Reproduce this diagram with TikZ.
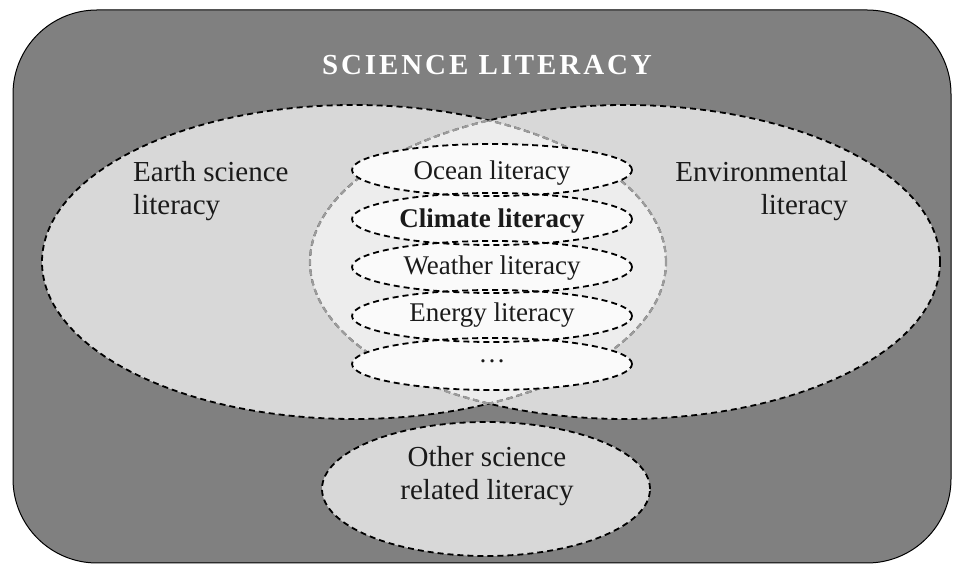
\documentclass[tikz,border=0pt]{standalone}
\usepackage{fontspec}
\setmainfont{Liberation Serif}
\newfontfamily\titlefont[LetterSpace=10]{Liberation Serif}
\definecolor{outergray}{HTML}{808080}
\definecolor{lightfill}{HTML}{D8D8D8}
\definecolor{lensfill}{HTML}{EDEDED}
\definecolor{smallfill}{HTML}{FAFAFA}
\definecolor{arcgray}{HTML}{9C9C9C}
\definecolor{ink}{HTML}{1A1A1A}
\newcommand{\ellL}{(354pt,303pt) ellipse [x radius=312pt, y radius=157pt]}
\newcommand{\ellR}{(625pt,303pt) ellipse [x radius=315pt, y radius=157pt]}
\newcommand{\ellB}{(486pt,76pt) ellipse [x radius=164pt, y radius=67pt]}
\begin{document}
\begin{tikzpicture}[x=1pt,y=1pt,
  dsh/.style={dash pattern=on 6pt off 4pt, line width=1.8pt},
  lbl/.style={font=\fontsize{29}{33}\selectfont, inner sep=0pt, text=ink},
  inlbl/.style={font=\fontsize{27}{31}\selectfont, inner sep=0pt, anchor=base, text=ink},
  smallell/.style={x radius=140pt, y radius=26pt}
 ]
\useasboundingbox (0,0) rectangle (954,565);
% outer frame
\draw[fill=outergray, line width=1pt, rounded corners=84pt] (13,2) rectangle (951,555);
% big ellipses
\fill[lightfill] \ellL;
\fill[lightfill] \ellR;
\fill[lightfill] \ellB;
\begin{scope}
  \clip \ellL;
  \fill[lensfill] \ellR;
\end{scope}
\draw[dsh, black] \ellL;
\draw[dsh, black] \ellR;
\begin{scope}
  \clip \ellR;
  \draw[dsh, arcgray, line width=2.2pt] \ellL;
\end{scope}
\begin{scope}
  \clip \ellL;
  \draw[dsh, arcgray, line width=2.2pt] \ellR;
\end{scope}
% small ellipses
\foreach \cy in {395,346,298,249,201} {
  \fill[smallfill] (492,\cy) ellipse [smallell];
}
\foreach \cy in {395,346,298,249,201} {
  \draw[dsh, black] (492,\cy) ellipse [smallell];
}
\draw[dsh, black] \ellB;
% texts
\node[font={\titlefont\fontsize{29}{33}\bfseries\selectfont}, text=white, anchor=base, inner sep=0pt] (title) at (487,490) {SCIENCE LITERACY};
\node[lbl, anchor=base west] (earth1) at (133,383) {Earth science};
\node[lbl, anchor=base west] (earth2) at (133,350) {literacy};
\node[lbl, anchor=base east] (env1) at (848,383) {Environmental};
\node[lbl, anchor=base east] (env2) at (848,350) {literacy};
\node[inlbl] (ocean) at (492,385) {Ocean literacy};
\node[inlbl, font=\fontsize{27}{31}\bfseries\selectfont] (climate) at (492,337) {Climate literacy};
\node[inlbl] (weather) at (492,290) {Weather literacy};
\node[inlbl] (energy) at (492,243) {Energy literacy};
\node[inlbl] (dots) at (492,202) {\dots};
\node[lbl, anchor=base] (other1) at (487,98) {Other science};
\node[lbl, anchor=base] (other2) at (487,65) {related literacy};
\end{tikzpicture}
\end{document}
